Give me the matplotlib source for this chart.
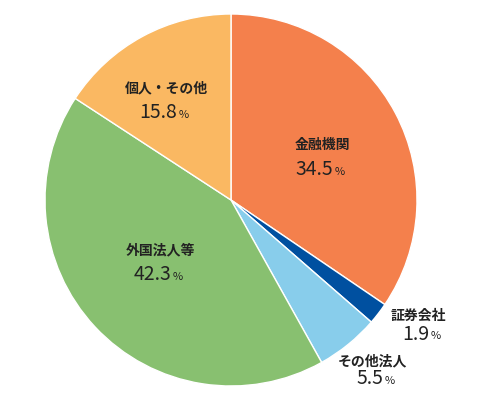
import matplotlib
matplotlib.use("Agg")
import matplotlib.pyplot as plt

plt.rcParams['font.family'] = ['Noto Sans CJK JP', 'DejaVu Sans']

labels = ['金融機関', '証券会社', 'その他法人', '外国法人等', '個人・その他']
values = [34.5, 1.9, 5.5, 42.3, 15.8]
colors = ['#F4804C', '#0050A0', '#88CDEB', '#88C070', '#FAB862']
# label centre positions in pixels (name line)
label_px = [(322, 145), (418, 316), (372, 361), (160, 250), (166, 88)]

fig = plt.figure(figsize=(4.8, 4.0), dpi=100)
ax = fig.add_axes([45 / 480, 14 / 400, 372 / 480, 372 / 400])
ax.pie(values, colors=colors, startangle=90, counterclock=False,
       wedgeprops=dict(edgecolor='white', linewidth=1))
ax.set_xlim(-1, 1)
ax.set_ylim(-1, 1)
ax.set_aspect('equal')

cx, cy, r = 231, 200, 186
for name, v, (px, py) in zip(labels, values, label_px):
    x = (px - cx) / r
    y = (cy - py) / r
    ax.text(x, y, name, ha='center', va='center', fontsize=10, fontweight='bold', color='#222222')
    y2 = (cy - py - 25) / r
    if v < 10:
        y2 = (cy - py - 18) / r
    ax.text(x + 0.06, y2, f'{v}', ha='right', va='center', fontsize=14, color='#222222')
    ax.text(x + 0.07, y2 - 0.01, '%', ha='left', va='center', fontsize=8, color='#222222')

fig.savefig('out.png', dpi=100)
